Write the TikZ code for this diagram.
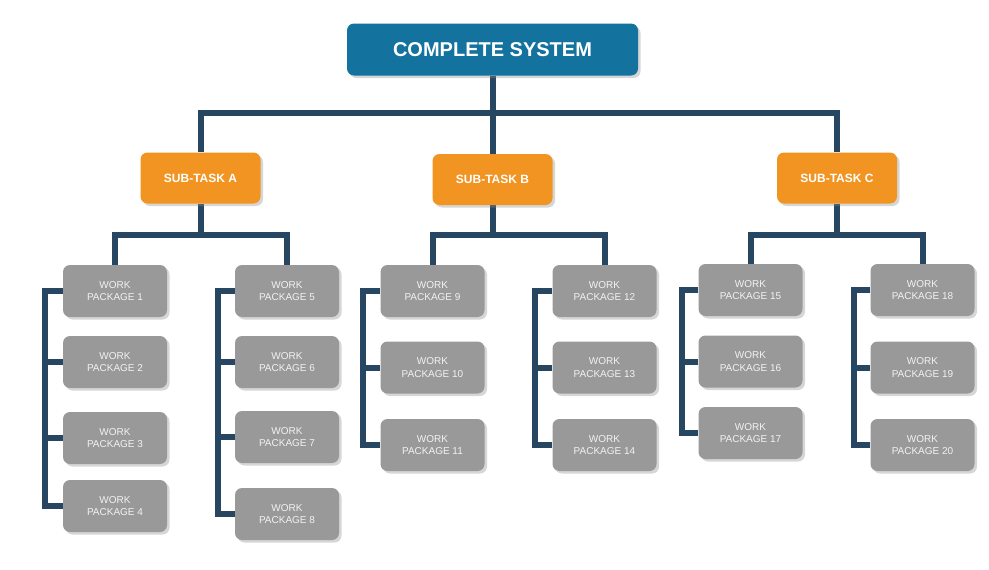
\documentclass[tikz,border=0pt]{standalone}
\usepackage{fontspec}
\setmainfont{Liberation Sans}
\usetikzlibrary{shadows,backgrounds}
\definecolor{topblue}{HTML}{13729E}
\definecolor{suborange}{HTML}{F29422}
\definecolor{wpgray}{HTML}{999999}
\definecolor{linenavy}{HTML}{264661}
\definecolor{wptext}{HTML}{F2F2F2}
\tikzset{
  boxshadow/.style={drop shadow={shadow xshift=2.5pt, shadow yshift=-2.5pt, opacity=0.35, fill=black!45}},
  topbox/.style={fill=topblue, rounded corners=7pt, minimum width=291pt, minimum height=52pt, inner sep=0pt, text=white, font=\fontsize{20}{24}\selectfont\bfseries, boxshadow},
  subbox/.style={fill=suborange, rounded corners=7pt, minimum width=120pt, minimum height=51pt, inner sep=0pt, text=white, font=\fontsize{12}{14}\selectfont\bfseries, boxshadow},
  wpbox/.style={fill=wpgray, rounded corners=7pt, minimum width=104pt, minimum height=52pt, inner sep=0pt, text=wptext, align=center, font=\fontsize{10}{12.3}\selectfont, boxshadow},
  conn/.style={draw=linenavy, line width=6pt}
}
\begin{document}
\begin{tikzpicture}[x=1pt,y=-1pt]
\useasboundingbox (0,0) rectangle (989,570);
\node[topbox] (top) at (492.5,49.5) {COMPLETE SYSTEM};
\node[subbox] (sa) at (200.5,178) {SUB-TASK A};
\node[subbox] (sb) at (492.5,179.5) {SUB-TASK B};
\node[subbox] (sc) at (837,178) {SUB-TASK C};
% column A1
\node[wpbox] (wp1) at (115,291) {WORK\\PACKAGE 1};
\node[wpbox] (wp2) at (115,362) {WORK\\PACKAGE 2};
\node[wpbox] (wp3) at (115,438) {WORK\\PACKAGE 3};
\node[wpbox] (wp4) at (115,506) {WORK\\PACKAGE 4};
% column A2
\node[wpbox] (wp5) at (287,291) {WORK\\PACKAGE 5};
\node[wpbox] (wp6) at (287,362) {WORK\\PACKAGE 6};
\node[wpbox] (wp7) at (287,437) {WORK\\PACKAGE 7};
\node[wpbox] (wp8) at (287,514) {WORK\\PACKAGE 8};
% column B1
\node[wpbox] (wp9) at (432.5,291) {WORK\\PACKAGE 9};
\node[wpbox] (wp10) at (432.5,367.5) {WORK\\PACKAGE 10};
\node[wpbox] (wp11) at (432.5,445) {WORK\\PACKAGE 11};
% column B2
\node[wpbox] (wp12) at (604.5,291) {WORK\\PACKAGE 12};
\node[wpbox] (wp13) at (604.5,367.5) {WORK\\PACKAGE 13};
\node[wpbox] (wp14) at (604.5,445) {WORK\\PACKAGE 14};
% column C1
\node[wpbox] (wp15) at (750.5,290) {WORK\\PACKAGE 15};
\node[wpbox] (wp16) at (750.5,361.5) {WORK\\PACKAGE 16};
\node[wpbox] (wp17) at (750.5,433) {WORK\\PACKAGE 17};
% column C2
\node[wpbox] (wp18) at (922.5,290) {WORK\\PACKAGE 18};
\node[wpbox] (wp19) at (922.5,367.5) {WORK\\PACKAGE 19};
\node[wpbox] (wp20) at (922.5,445) {WORK\\PACKAGE 20};
% junctions
\coordinate (j0) at (492.5,113);
\coordinate (jA) at (200.5,235);
\coordinate (jB) at (492.5,235);
\coordinate (jC) at (837,235);
\coordinate (bA1) at (45,291);
\coordinate (bA2) at (218,291);
\coordinate (bB1) at (363,291);
\coordinate (bB2) at (535,291);
\coordinate (bC1) at (682,290);
\coordinate (bC2) at (854,290);
\begin{scope}[on background layer]
\fill[white] (0,0) rectangle (989,570);
% top level
\draw[conn] (top.south) -- (sb.north);
\draw[conn] (sa.north) -- (sa.north |- j0) -- (sc.north |- j0) -- (sc.north);
% sub-task buses
\draw[conn] (sa.south) -- (jA);
\draw[conn] (wp1.north) |- (jA) -| (wp5.north);
\draw[conn] (sb.south) -- (jB);
\draw[conn] (wp9.north) |- (jB) -| (wp12.north);
\draw[conn] (sc.south) -- (jC);
\draw[conn] (wp15.north) |- (jC) -| (wp18.north);
% brackets
\draw[conn] (wp1.west) -- (bA1) |- (wp4.west);
\draw[conn] (wp2.west) -- (wp2.west -| bA1);
\draw[conn] (wp3.west) -- (wp3.west -| bA1);
\draw[conn] (wp5.west) -- (bA2) |- (wp8.west);
\draw[conn] (wp6.west) -- (wp6.west -| bA2);
\draw[conn] (wp7.west) -- (wp7.west -| bA2);
\draw[conn] (wp9.west) -- (bB1) |- (wp11.west);
\draw[conn] (wp10.west) -- (wp10.west -| bB1);
\draw[conn] (wp12.west) -- (bB2) |- (wp14.west);
\draw[conn] (wp13.west) -- (wp13.west -| bB2);
\draw[conn] (wp15.west) -- (bC1) |- (wp17.west);
\draw[conn] (wp16.west) -- (wp16.west -| bC1);
\draw[conn] (wp18.west) -- (bC2) |- (wp20.west);
\draw[conn] (wp19.west) -- (wp19.west -| bC2);
\end{scope}
\end{tikzpicture}
\end{document}
